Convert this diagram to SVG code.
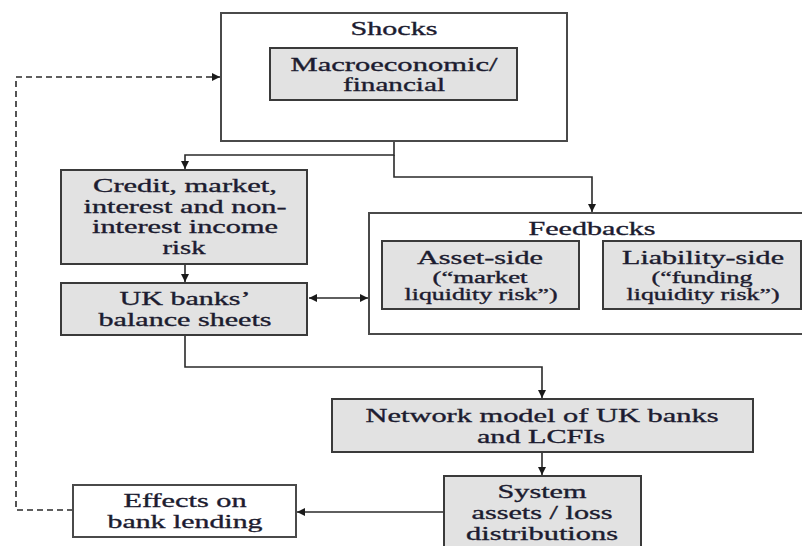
<svg xmlns="http://www.w3.org/2000/svg" width="802" height="546" viewBox="0 0 802 546">
<defs>
<marker id="ah" viewBox="0 0 10 10" refX="10" refY="5" markerUnits="userSpaceOnUse" markerWidth="10" markerHeight="8" orient="auto-start-reverse">
<path d="M0,0 L10,5 L0,10 z" fill="#1a1a1a"/>
</marker>
<style>
.outer{fill:#ffffff;stroke:#4a4a4a;stroke-width:2}
.inner{fill:#e2e2e2;stroke:#3a3a3a;stroke-width:2}
.t{font-family:"Liberation Serif","Times New Roman",serif;font-size:19px;fill:#1c1c30;stroke:#1c1c30;stroke-width:0.35;text-anchor:middle}
.s{font-size:16px}
.c{fill:none;stroke:#2a2a2a;stroke-width:1.6}
.d{fill:none;stroke:#2a2a2a;stroke-width:1.6;stroke-dasharray:6,4}
</style>
</defs>
<rect width="802" height="546" fill="#ffffff"/>

<g id="connectors">
<path class="c" d="M394,141 V155 H185 V169" marker-end="url(#ah)"/>
<path class="c" d="M394,155 V177 H592 V212" marker-end="url(#ah)"/>
<path class="c" d="M185,264 V282" marker-end="url(#ah)"/>
<path class="c" d="M309,298 H368" marker-start="url(#ah)" marker-end="url(#ah)"/>
<path class="c" d="M185,335 V367 H542 V398" marker-end="url(#ah)"/>
<path class="c" d="M542,452 V475" marker-end="url(#ah)"/>
<path class="c" d="M444,512 H297" marker-end="url(#ah)"/>
<path class="d" d="M73,510 H16 V77 H220" marker-end="url(#ah)"/>
</g>

<g id="shocks">
<rect class="outer" x="221" y="13" width="346" height="128"/>
<text class="t" transform="translate(394,35) scale(1.55,1)" textLength="56.1" lengthAdjust="spacingAndGlyphs">Shocks</text>
</g>
<g id="macro">
<rect class="inner" x="270" y="48" width="247" height="52"/>
<text class="t" transform="translate(394,71) scale(1.55,1)" textLength="133.5" lengthAdjust="spacingAndGlyphs">Macroeconomic/</text>
<text class="t" transform="translate(394,91) scale(1.55,1)" textLength="65.8" lengthAdjust="spacingAndGlyphs">financial</text>
</g>

<g id="credit">
<rect class="inner" x="61" y="170" width="246" height="94"/>
<text class="t" transform="translate(185,192) scale(1.55,1)" textLength="118.7" lengthAdjust="spacingAndGlyphs">Credit, market,</text>
<text class="t" transform="translate(185,213) scale(1.55,1)" textLength="131" lengthAdjust="spacingAndGlyphs">interest and non-</text>
<text class="t" transform="translate(185,233) scale(1.55,1)" textLength="120" lengthAdjust="spacingAndGlyphs">interest income</text>
<text class="t" transform="translate(184,254) scale(1.55,1)" textLength="27.7" lengthAdjust="spacingAndGlyphs">risk</text>
</g>

<g id="ukbanks">
<rect class="inner" x="61" y="283" width="246" height="52"/>
<text class="t" transform="translate(185,305) scale(1.55,1)" textLength="84.5" lengthAdjust="spacingAndGlyphs">UK banks’</text>
<text class="t" transform="translate(185,326) scale(1.55,1)" textLength="111.6" lengthAdjust="spacingAndGlyphs">balance sheets</text>
</g>

<g id="feedbacks">
<rect class="outer" x="369" y="213" width="440" height="121"/>
<text class="t" transform="translate(592,235) scale(1.55,1)" textLength="81.9" lengthAdjust="spacingAndGlyphs">Feedbacks</text>
</g>
<g id="asset">
<rect class="inner" x="382" y="241" width="197" height="68"/>
<text class="t" transform="translate(480,264) scale(1.55,1)" textLength="81.3" lengthAdjust="spacingAndGlyphs">Asset-side</text>
<text class="t s" transform="translate(480,283) scale(1.55,1)" textLength="61.3" lengthAdjust="spacingAndGlyphs">(“market</text>
<text class="t s" transform="translate(481,300) scale(1.55,1)" textLength="98.7" lengthAdjust="spacingAndGlyphs">liquidity risk”)</text>
</g>
<g id="liability">
<rect class="inner" x="603" y="241" width="198" height="68"/>
<text class="t" transform="translate(703,264) scale(1.55,1)" textLength="104.5" lengthAdjust="spacingAndGlyphs">Liability-side</text>
<text class="t s" transform="translate(702,283) scale(1.55,1)" textLength="65.2" lengthAdjust="spacingAndGlyphs">(“funding</text>
<text class="t s" transform="translate(703,300) scale(1.55,1)" textLength="98.7" lengthAdjust="spacingAndGlyphs">liquidity risk”)</text>
</g>

<g id="network">
<rect class="inner" x="332" y="399" width="421" height="53"/>
<text class="t" transform="translate(542,422) scale(1.55,1)" textLength="227.7" lengthAdjust="spacingAndGlyphs">Network model of UK banks</text>
<text class="t" transform="translate(541,443) scale(1.55,1)" textLength="82.6" lengthAdjust="spacingAndGlyphs">and LCFIs</text>
</g>

<g id="system">
<rect class="inner" x="444" y="476" width="197" height="80"/>
<text class="t" transform="translate(542,498) scale(1.55,1)" textLength="57.4" lengthAdjust="spacingAndGlyphs">System</text>
<text class="t" transform="translate(542,519) scale(1.55,1)" textLength="91" lengthAdjust="spacingAndGlyphs">assets / loss</text>
<text class="t" transform="translate(542,540) scale(1.55,1)" textLength="98.1" lengthAdjust="spacingAndGlyphs">distributions</text>
</g>

<g id="effects">
<rect class="outer" x="73" y="485" width="223" height="52"/>
<text class="t" transform="translate(185,507) scale(1.55,1)" textLength="79.4" lengthAdjust="spacingAndGlyphs">Effects on</text>
<text class="t" transform="translate(185,528) scale(1.55,1)" textLength="100" lengthAdjust="spacingAndGlyphs">bank lending</text>
</g>
</svg>
